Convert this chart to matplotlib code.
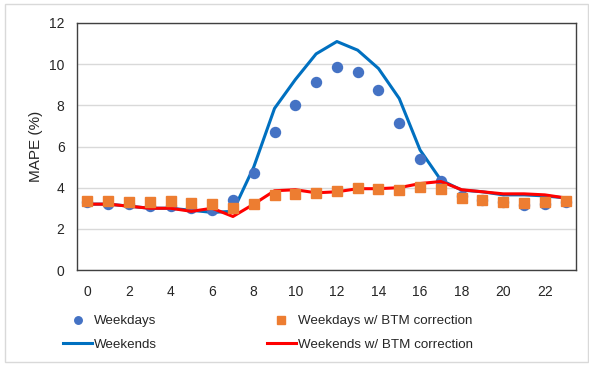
import matplotlib
matplotlib.use("Agg")
import matplotlib.pyplot as plt
from matplotlib.patches import Rectangle

plt.rcParams['font.family'] = ['Liberation Sans', 'DejaVu Sans']

hours = list(range(24))
weekdays = [3.3, 3.2, 3.2, 3.1, 3.1, 3.0, 2.9, 3.4, 4.7, 6.7, 8.0, 9.15,
            9.87, 9.63, 8.74, 7.12, 5.4, 4.32, 3.6, 3.4, 3.3, 3.15, 3.2, 3.3]
weekends = [3.2, 3.2, 3.1, 3.0, 3.0, 2.9, 2.8, 2.85, 5.0, 7.85, 9.25, 10.5,
            11.1, 10.68, 9.79, 8.33, 5.83, 4.37, 3.88, 3.8, 3.65, 3.65, 3.6, 3.5]
weekdays_btm = [3.35, 3.35, 3.3, 3.3, 3.35, 3.25, 3.2, 3.0, 3.2, 3.65, 3.7, 3.75,
                3.85, 4.0, 3.95, 3.9, 4.05, 3.95, 3.5, 3.4, 3.3, 3.25, 3.3, 3.35]
weekends_btm = [3.2, 3.2, 3.1, 3.0, 3.0, 2.85, 3.0, 2.6, 3.2, 3.85, 3.9, 3.75,
                3.8, 3.95, 3.95, 4.0, 4.2, 4.3, 3.9, 3.8, 3.7, 3.7, 3.65, 3.5]
xticks = list(range(0, 24, 2))
yticks = [0, 2, 4, 6, 8, 10, 12]

fig = plt.figure(figsize=(5.89, 3.66), dpi=100)
fig.patches.append(Rectangle((5/589, 4/366), 583/589, 358/366, transform=fig.transFigure,
                             fill=False, edgecolor='#d9d9d9', linewidth=1))
ax = fig.add_axes([77/589, 1 - 270/366, (576-77)/589, (270-23)/366])

h1, = ax.plot(hours, weekdays, 'o', color='#4472C4', markersize=7.2, label='Weekdays', zorder=3)
h2, = ax.plot(hours, weekends, '-', color='#0070C0', linewidth=2.2, label='Weekends', zorder=2)
h3, = ax.plot(hours, weekdays_btm, 's', color='#ED7D31', markersize=7.5, label='Weekdays w/ BTM correction', zorder=5)
h4, = ax.plot(hours, weekends_btm, '-', color='#FF0000', linewidth=2.2, label='Weekends w/ BTM correction', zorder=4)

ax.set_xlim(-0.5, 23.5)
ax.set_ylim(0, 12)
ax.set_xticks(xticks)
ax.set_yticks(yticks)
ax.tick_params(axis='x', length=0, labelsize=10, colors='#262626', pad=11)
ax.tick_params(axis='y', length=0, labelsize=10, colors='#262626', pad=9)
ax.grid(axis='y', color='#d9d9d9', linewidth=1)
ax.set_axisbelow(True)
for s in ax.spines.values():
    s.set_color('#404040')
    s.set_linewidth(1)
ax.set_ylabel('MAPE (%)', fontsize=11, color='#262626', labelpad=4)

fig.legend(handles=[h1, h2, h3, h4], ncol=2, loc='center', bbox_to_anchor=(0.455, 1 - 333/366),
           frameon=False, fontsize=9.6, columnspacing=8.2, handlelength=2.2, handletextpad=0.15,
           labelspacing=0.85, labelcolor='#262626', markerscale=0.75)

fig.savefig('out.png', dpi=100)
